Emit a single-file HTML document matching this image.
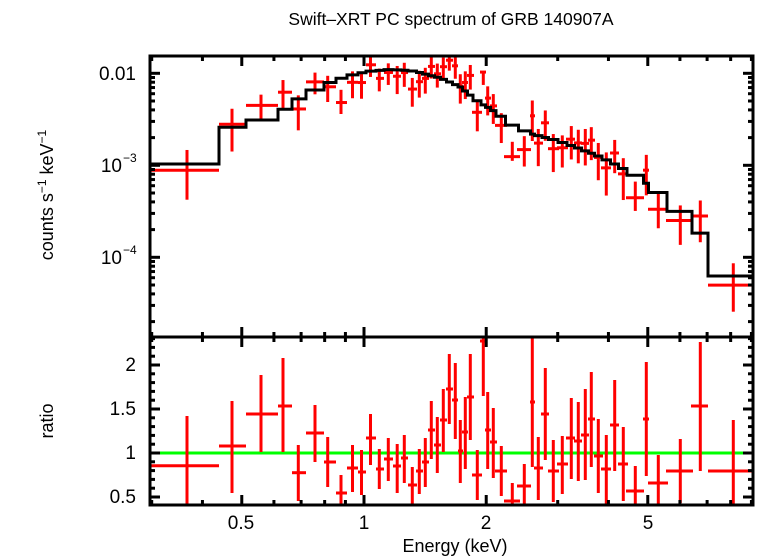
<!DOCTYPE html>
<html><head><meta charset="utf-8"><style>
html,body{margin:0;padding:0;background:#fff;}
svg{display:block;font-family:"Liberation Sans",sans-serif;}
</style></head><body>
<svg id="s" width="758" height="556" viewBox="0 0 758 556" xmlns="http://www.w3.org/2000/svg">
<text x="451" y="25" font-size="17.5" text-anchor="middle">Swift–XRT PC spectrum of GRB 140907A</text>
<text x="455" y="552" font-size="18" text-anchor="middle">Energy (keV)</text>
<text transform="translate(53,195) rotate(-90)" font-size="18" text-anchor="middle">counts s<tspan font-size="12" dy="-7">−1</tspan><tspan dy="7"> keV</tspan><tspan font-size="12" dy="-7">−1</tspan></text>
<text transform="translate(53,421) rotate(-90)" font-size="18" text-anchor="middle">ratio</text>
<text x="136" y="80" font-size="19" text-anchor="end">0.01</text>
<text x="122" y="172" font-size="19" text-anchor="end">10</text><text x="123" y="162" font-size="12">−3</text>
<text x="122" y="264" font-size="19" text-anchor="end">10</text><text x="123" y="254" font-size="12">−4</text>
<text x="136" y="371" font-size="19" text-anchor="end">2</text>
<text x="136" y="415" font-size="19" text-anchor="end">1.5</text>
<text x="136" y="459" font-size="19" text-anchor="end">1</text>
<text x="136" y="503" font-size="19" text-anchor="end">0.5</text>
<text x="241" y="529" font-size="19" text-anchor="middle">0.5</text>
<text x="364" y="529" font-size="19" text-anchor="middle">1</text>
<text x="486" y="529" font-size="19" text-anchor="middle">2</text>
<text x="648" y="529" font-size="19" text-anchor="middle">5</text>
<g id="g"></g>
</svg>
<script>
var g=document.getElementById('g'),h='';
var L=150,R=753,T=56,M=337,B=505;
function X(e){return 364+406*Math.log10(e);}
function ln(x1,y1,x2,y2,c,w){h+='<line x1="'+x1+'" y1="'+y1+'" x2="'+x2+'" y2="'+y2+'" stroke="'+c+'" stroke-width="'+w+'"/>';}
var D=[[187,465.7,416,505,150,219],[232,446,401,493,219,246],[261,414,375,452,246,278],[283,406,358,452,278,292],[298.3,472.7,445,501,292,306],[315,433,405,462,306,324],[327.7,462,437,487,324,336],[341,493,475,505,336,347],[352.5,468,445,492,347,358],[361.5,472,450,495,358,366],[370.5,438,414,465,366,376],[379.3,469,449,489,376,384],[388.3,459,438,481,384,393],[397.2,466,444,493,393,401],[404.3,458,435,483,401,408],
[412.3,485,467,505,408,417],[419.3,471,449,494,416,423],[425.3,462,438,487,422,429],[431.3,430,401,459,428,435],[437.3,445,417,473,434,441],[443.3,420,389,452,440,447],[449.3,389,354,424,446,453],[455.3,400,363,439,452,458],[460.3,451,420,483,458,463],[465.3,432,397,469,462,468],[470.3,397,354,440,467,474],[477.3,475,450,500,472,482],[483.3,341,337,396,480,486],[487.7,430,392,469,485,491],[493.3,442,408,478,490,497],[501.3,471,446,496,495,507],[512.3,501,483,505,504,520],[524.3,486,464,505,517,531],[532.3,402,337,467,530,535],[538.3,468,437,500,534,543],[545.3,414,368,460,541,549],[553.3,471,440,502,548,559],[562.3,464,436,494,557,568],[571.3,438,398,479,566,575],[578.3,441,402,481,574,582],[585.3,435,389,480,581,589],[591.3,419,372,467,588,595],[598.3,456,419,493,594,603],[606.3,469,435,505,601,611],[614.7,425,380,471,610,619],[623.3,464,427,501,618,628],[635.3,491,466,505,626,644],[646.3,419,362,476,643,649],[658.3,483,455,505,648,668],[680.3,471,439,503,666,693],[700.3,406,342,471,691,708],[733.3,471,420,505,708,753]];
var C=[[150,164],[187,164],[232,127.3],[261,120],[283,109.3],[298,99],[315,90],[328,82.3],[341,78.3],[353,74.7],[362,72.7],[371,71],[390,69.5],[410,70.5],[420,72.7],[440,78],[460,86.7],[480,103],[497,112.7],[512,125],[524,130.7],[532,134],[555,140],[575,146.7],[600,156.7],[620,166.7],[635,175],[646,183],[658,192.3],[680,211],[700,232.7],[733,276],[753,276]];
function mod(x){for(var i=1;i<C.length;i++){if(x<=C[i][0]){var a=C[i-1],b=C[i];return a[1]+(b[1]-a[1])*(x-a[0])/(b[0]-a[0]);}}return 276;}
function r(py){return 1+(453-py)/88;}
function ty(m,rr){if(rr<=0.001)return M;var y=m-92*Math.log10(rr);return Math.min(M,Math.max(T,y));}
var p='';
D.forEach(function(d,i){var m=mod(d[0]);var lo=i?(D[i-1][5]+d[4])/2:150;var hi=i<D.length-1?(d[5]+D[i+1][4])/2:753;p+=(i?'L':'M')+lo+','+m+'L'+hi+','+m;});
D.forEach(function(d){var m=mod(d[0]);var y=ty(m,r(d[1])),y1=ty(m,r(d[2])),y2=ty(m,r(d[3]));ln(d[4],y,d[5],y,'#f00',3);ln(d[0],y1,d[0],y2,'#f00',3);});
h+='<path d="'+p+'" fill="none" stroke="#000" stroke-width="3"/>';
ln(L,453,R,453,'#0f0',3);
D.forEach(function(d){ln(d[4],Math.max(M,Math.min(B,d[1])),d[5],Math.max(M,Math.min(B,d[1])),'#f00',3);ln(d[0],Math.max(M,d[2]),d[0],Math.min(B,d[3]),'#f00',3);});
var xt=[[0.3,0],[0.4,0],[0.5,1],[0.6,0],[0.7,0],[0.8,0],[0.9,0],[1,1],[2,1],[3,0],[4,0],[5,1],[6,0],[7,0],[8,0],[9,0]];
xt.forEach(function(t){var x=X(t[0]);if(x<L+1||x>R-1)return;var l=t[1]?10:5;ln(x,T,x,T+l,'#000',3);ln(x,M,x,M-l,'#000',3);ln(x,M,x,M+l,'#000',3);ln(x,B,x,B-l,'#000',3);});
for(var dec=-5;dec<=-1;dec++){for(var k=1;k<10;k++){var v=Math.log10(k)+dec;var y=73.3-92*(v+2);if(y<T+1||y>M-1)continue;var l=k==1?10:5;ln(L,y,L+l,y,'#000',3);ln(R,y,R-l,y,'#000',3);}}
for(var k=5;k<=23;k++){var v=k/10;var y=453-88*(v-1);if(y<M+1||y>B-1)continue;var l=(k%5==0)?10:5;ln(L,y,L+l,y,'#000',3);ln(R,y,R-l,y,'#000',3);}
h+='<rect x="'+L+'" y="'+T+'" width="'+(R-L)+'" height="'+(B-T)+'" fill="none" stroke="#000" stroke-width="3"/>';
ln(L,M,R,M,'#000',3);
g.innerHTML=h;
</script>
</body></html>
